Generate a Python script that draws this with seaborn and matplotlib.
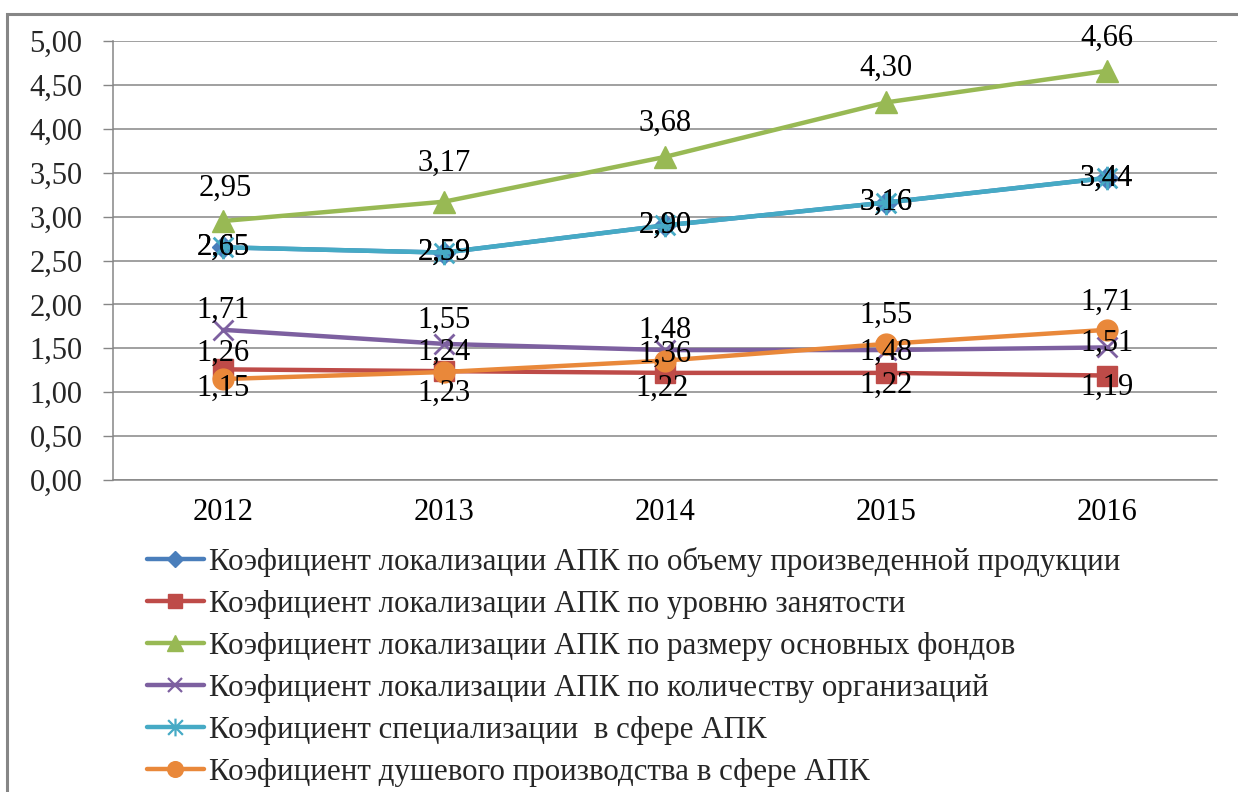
import numpy as np
import pandas as pd
import matplotlib
matplotlib.use("Agg")
import matplotlib.pyplot as plt
import seaborn as sns
from matplotlib.path import Path
from matplotlib.patches import Rectangle
from matplotlib.lines import Line2D

years = ["2012", "2013", "2014", "2015", "2016"]
names = [
    "Коэфициент локализации АПК по объему произведенной продукции",
    "Коэфициент локализации АПК по уровню занятости",
    "Коэфициент локализации АПК по размеру основных фондов",
    "Коэфициент локализации АПК по количеству организаций",
    "Коэфициент специализации  в сфере АПК",
    "Коэфициент душевого производства в сфере АПК",
]
v_volume = [2.65, 2.59, 2.90, 3.16, 3.44]
v_employment = [1.26, 1.24, 1.22, 1.22, 1.19]
v_funds = [2.95, 3.17, 3.68, 4.30, 4.66]
v_orgs = [1.71, 1.55, 1.48, 1.48, 1.51]
v_spec = [2.65, 2.59, 2.90, 3.16, 3.44]
v_percap = [1.15, 1.23, 1.36, 1.55, 1.71]
y_ticks = [0.0, 0.5, 1.0, 1.5, 2.0, 2.5, 3.0, 3.5, 4.0, 4.5, 5.0]

series = [v_volume, v_employment, v_funds, v_orgs, v_spec, v_percap]

# styles
colors = ["#4A7EBB", "#BE4B48", "#98B954", "#7D60A0", "#46AAC5", "#E9883A"]
star = Path([(-1, -1), (1, 1), (-1, 1), (1, -1), (0, -1.2), (0, 1.2)],
            [Path.MOVETO, Path.LINETO, Path.MOVETO, Path.LINETO, Path.MOVETO, Path.LINETO])
markers = ["D", "s", "^", "x", star, "o"]
msizes = [11, 14, 16, 14, 17, 15]
# label offsets in pixels (dx, dy), dy positive upward
label_off = [
    [(0, 0)] * 5,
    [(0, 16), (0, 19), (-3, -15), (0, -12), (0, -12)],
    [(2, 33), (0, 38), (0, 34), (0, 34), (0, 33)],
    [(0, 20), (0, 24), (0, 20), (0, -2), (0, 4)],
    [(0, 0)] * 5,
    [(0, -9), (0, -21), (0, 6), (0, 29), (0, 28)],
]

sns.set_theme(style="white")
plt.rcParams["font.family"] = ["Liberation Serif", "DejaVu Serif"]

W, H = 1238, 792
fig = plt.figure(figsize=(W / 100, H / 100), dpi=100)
ax = fig.add_axes([113 / W, 1 - 480 / H, (1217 - 113) / W, (480 - 41) / H])

x = np.arange(len(years))
handles = []
for vals, name, c, m, ms in zip(series, names, colors, markers, msizes):
    thin = (m == "x") or (m is star)
    sns.lineplot(x=x, y=vals, ax=ax, color=c, lw=3.2, marker=m, markersize=ms,
                 markeredgecolor=c, markerfacecolor=c, markeredgewidth=2 if thin else 1,
                 legend=False, solid_capstyle="round")
    handles.append(Line2D([], [], color=c, lw=3.2, marker=m, markersize=ms * 0.75,
                          markeredgecolor=c, markerfacecolor=c,
                          markeredgewidth=1.6 if thin else 1,
                          solid_capstyle="round"))

for vals, offs in zip(series, label_off):
    for xi, v, (dx, dy) in zip(x, vals, offs):
        ax.annotate(f"{v:.2f}".replace(".", ","), (xi, v), xytext=(dx * 0.72, dy * 0.72),
                    textcoords="offset points", ha="center", va="center",
                    fontsize=22, color="black", zorder=10)

ax.set_xlim(-0.5, len(years) - 0.5)
ax.set_ylim(0, 5)
ax.set_yticks(y_ticks)
ax.set_yticklabels([f"{t:.2f}".replace(".", ",") for t in y_ticks], fontsize=22)
ax.set_xticks(x)
ax.set_xticklabels(years, fontsize=22)
ax.set_xticks(np.arange(-0.5, len(years)), minor=True)
ax.tick_params(axis="x", which="major", length=0, pad=13, colors="black")
ax.tick_params(axis="x", which="minor", length=6, width=1, color="#868686", direction="out")
ax.tick_params(axis="y", which="major", length=7, width=1, color="#868686", pad=15,
               direction="out", left=True)
ax.grid(axis="y", color="#868686", lw=1.1)
ax.grid(axis="x", visible=False)
for s in ["top", "right"]:
    ax.spines[s].set_visible(False)
for s in ["left", "bottom"]:
    ax.spines[s].set_color("#868686")
    ax.spines[s].set_linewidth(1.1)
ax.set_axisbelow(True)

fig.legend(handles, names, loc="upper left", bbox_to_anchor=(147 / W, 1 - 547 / H),
           frameon=False, fontsize=22.3, handlelength=1.84, handletextpad=0.16,
           labelspacing=0.42, borderpad=0, borderaxespad=0)

fig.patches.append(Rectangle((7 / W, -0.1), 1.2, (1 - 14 / H) + 0.1, transform=fig.transFigure,
                             fill=False, edgecolor="#868686", lw=2.2, figure=fig))

fig.savefig("out.png", dpi=100, facecolor="white")
